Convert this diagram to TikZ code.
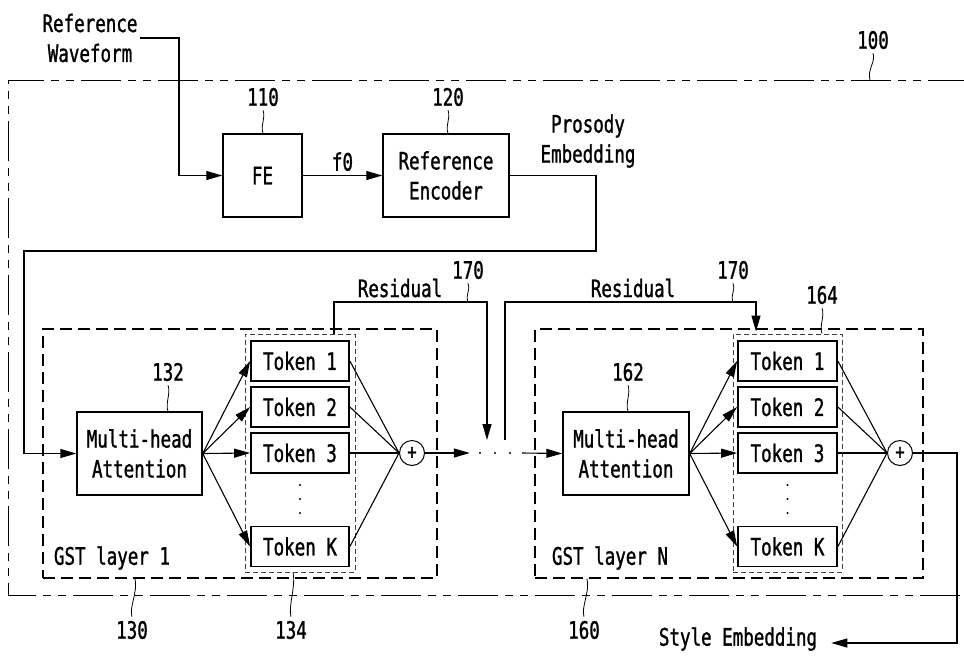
\documentclass[tikz,border=0pt]{standalone}
\usepackage{fontspec}
\setmainfont[FakeStretch=0.73,FakeBold=1.2]{DejaVu Sans Mono}
\usetikzlibrary{arrows.meta,calc}
\begin{document}
\begin{tikzpicture}[x=1pt,y=-1pt,
  font=\fontsize{24}{30}\selectfont,
  box/.style={draw,line width=1.4pt,inner sep=0,align=center},
  tok/.style={draw,line width=1.8pt,inner sep=0,minimum height=40pt},
  grp/.style={draw,line width=1.1pt,dash pattern=on 12pt off 6pt,inner sep=0},
  tgrp/.style={draw,line width=0.9pt,black!75,dash pattern=on 5pt off 3pt,inner sep=0,minimum height=238pt},
  sum/.style={draw,circle,line width=1pt,minimum size=25pt,inner sep=0,font=\fontsize{21}{21}\selectfont},
  arr/.style={line width=1.1pt,-{Triangle[length=16pt,width=9pt]}},
  ln/.style={line width=1.1pt},
  lab/.style={inner sep=0,align=center},
  lead/.style={line width=0.8pt}]
\useasboundingbox (0,0) rectangle (964,657);

% outer box 100
\coordinate (oTR) at (968,80);
\coordinate (oTL) at (8,80);
\coordinate (oBL) at (8,595);
\coordinate (oBR) at (968,595);
\draw[line width=1pt,dash pattern=on 40pt off 7pt on 8pt off 7pt on 8pt off 7pt] (oTR) -- (oTL) -- (oBL) -- (oBR);
\node[lab] (l100) at (873,40) {100};
\coordinate (t100) at (870,80);
\draw[lead] ([yshift=-4pt]l100.south) .. controls ([xshift=3pt,yshift=-12pt]l100.south) and ([xshift=-3pt,yshift=10pt]t100) .. (t100);

% top row
\node[lab] (rw) at (90,38) {Reference\\Waveform};
\node[box,minimum width=79pt,minimum height=83pt] (fe) at (262.5,175.5) {FE};
\node[box,minimum width=126pt,minimum height=83pt] (re) at (446,175.5) {Reference\\Encoder};
\node[lab] (l110) at (263,97) {110};
\node[lab] (l120) at (448,97) {120};
\draw[lead] ([yshift=-4pt]l110.south) .. controls ([xshift=3pt,yshift=-12pt]l110.south) and ([xshift=-3pt,yshift=8pt]l110.south |- fe.north) .. (l110.south |- fe.north);
\draw[lead] ([yshift=-4pt]l120.south) .. controls ([xshift=3pt,yshift=-12pt]l120.south) and ([xshift=-3pt,yshift=8pt]l120.south |- re.north) .. (l120.south |- re.north);
\coordinate (c1) at (179,175.5);
\draw[arr] ([xshift=2pt]rw.east) -| (c1) -- (fe.west);
\draw[arr] (fe.east) -- (re.west) node[midway,above=4pt,lab] {f0};
\node[lab] (pe) at (588,141) {Prosody\\Embedding};
\coordinate (p1) at (596,251);
\coordinate (p2) at (24,251);

% GST layer 1
\node[grp,minimum width=394pt,minimum height=249pt] (g1) at (240,453.5) {};
\node[tgrp,minimum width=110pt] (tg1) at (300,453) {};
\node[box,minimum width=125pt,minimum height=83pt] (m1) at (139.5,453.5) {Multi-head\\Attention};
\node[tok,minimum width=98pt] (a1) at (300,361) {Token 1};
\node[tok,minimum width=98pt] (a2) at (300,407) {Token 2};
\node[tok,minimum width=98pt] (a3) at (300,453) {Token 3};
\node[tok,minimum width=98pt] (aK) at (300,546.5) {Token K};
\node[lab] (gl1) at (112,558) {GST layer 1};
\foreach \yy in {485,499,513} \fill (300,\yy) circle (1.2pt);
\node[sum] (s1) at (412,453) {+};

\draw[arr] (re.east) -| (p1) -- (p2) |- (m1.west);

\foreach \t in {a1,a2,a3,aK} {
  \draw[arr] (m1.east) -- (\t.west);
  \draw[ln] (\t.east) -- (s1.west);
}

% dots between layers
\node[inner sep=0,minimum width=50pt,minimum height=4pt] (dots) at (495,453) {};
\foreach \xx in {480,495,510} \fill (\xx,453) circle (1.1pt);
\draw[arr] (s1.east) -- (dots.west);

% GST layer N
\node[grp,minimum width=388pt,minimum height=249pt] (gN) at (729,453.5) {};
\node[tgrp,minimum width=109pt] (tgN) at (787.5,453) {};
\node[box,minimum width=126pt,minimum height=83pt] (mN) at (626,453.5) {Multi-head\\Attention};
\node[tok,minimum width=99pt] (b1) at (787.5,361) {Token 1};
\node[tok,minimum width=99pt] (b2) at (787.5,407) {Token 2};
\node[tok,minimum width=99pt] (b3) at (787.5,453) {Token 3};
\node[tok,minimum width=99pt] (bK) at (787.5,546.5) {Token K};
\node[lab] (glN) at (610,558) {GST layer N};
\foreach \yy in {485,499,513} \fill (787.5,\yy) circle (1.2pt);
\node[sum] (sN) at (900,453) {+};
\draw[arr] ([xshift=2pt]dots.east) -- (mN.west);
\foreach \t in {b1,b2,b3,bK} {
  \draw[arr] (mN.east) -- (\t.west);
  \draw[ln] (\t.east) -- (sN.west);
}

% residuals
\coordinate (r1a) at (334,302);
\coordinate (r1b) at (487,302);
\coordinate (r1e) at (487,440);
\draw[arr] (r1a |- tg1.north) -- (r1a) -- (r1b) -- (r1e);
\node[lab] (res1) at (400,288) {Residual};
\coordinate (r2s) at (505,440);
\coordinate (r2a) at (505,302);
\coordinate (r2b) at (756,302);
\draw[arr] (r2s) -- (r2a) -- (r2b) -- ([yshift=2pt]r2b |- tgN.north);
\node[lab] (res2) at (633,288) {Residual};
\node[lab] (l170a) at (468,270) {170};
\node[lab] (l170b) at (733,270) {170};
\draw[lead] ([yshift=-4pt]l170a.south) .. controls ([xshift=3pt,yshift=-10pt]l170a.south) and ([xshift=-3pt,yshift=7pt]l170a.south |- r1a) .. (l170a.south |- r1a);
\draw[lead] ([yshift=-4pt]l170b.south) .. controls ([xshift=3pt,yshift=-10pt]l170b.south) and ([xshift=-3pt,yshift=7pt]l170b.south |- r2a) .. (l170b.south |- r2a);

% output
\node[lab] (se) at (738,639) {Style Embedding};
\coordinate (o1) at (957,643);
\draw[arr] (sN.east) -| (o1) -- ([xshift=14pt]se.east |- o1);

% numeric labels with leaders
\node[lab] (l132) at (168,372) {132};
\node[lab] (l162) at (628,372) {162};
\node[lab] (l164) at (822,295) {164};
\node[lab] (l130) at (132,630) {130};
\node[lab] (l134) at (291,630) {134};
\node[lab] (l160) at (584,630) {160};
\draw[lead] ([yshift=-4pt]l132.south) .. controls ([xshift=3pt,yshift=-12pt]l132.south) and ([xshift=-3pt,yshift=8pt]l132.south |- m1.north) .. (l132.south |- m1.north);
\draw[lead] ([yshift=-4pt]l162.south) .. controls ([xshift=3pt,yshift=-12pt]l162.south) and ([xshift=-3pt,yshift=8pt]l162.south |- mN.north) .. (l162.south |- mN.north);
\draw[lead] ([yshift=-4pt]l164.south) .. controls ([xshift=3pt,yshift=-12pt]l164.south) and ([xshift=-3pt,yshift=8pt]l164.south |- tgN.north) .. (l164.south |- tgN.north);
\draw[lead] ([yshift=4pt]l130.north) .. controls ([xshift=-3pt,yshift=14pt]l130.north) and ([xshift=6pt,yshift=-14pt]l130.north |- g1.south) .. ([xshift=3pt]l130.north |- g1.south);
\draw[lead] ([yshift=4pt]l134.north) .. controls ([xshift=-3pt,yshift=14pt]l134.north) and ([xshift=5pt,yshift=-14pt]l134.north |- tg1.south) .. ([xshift=2pt]l134.north |- tg1.south);
\draw[lead] ([yshift=4pt]l160.north) .. controls ([xshift=-3pt,yshift=14pt]l160.north) and ([xshift=6pt,yshift=-14pt]l160.north |- gN.south) .. ([xshift=3pt]l160.north |- gN.south);
\end{tikzpicture}
\end{document}
